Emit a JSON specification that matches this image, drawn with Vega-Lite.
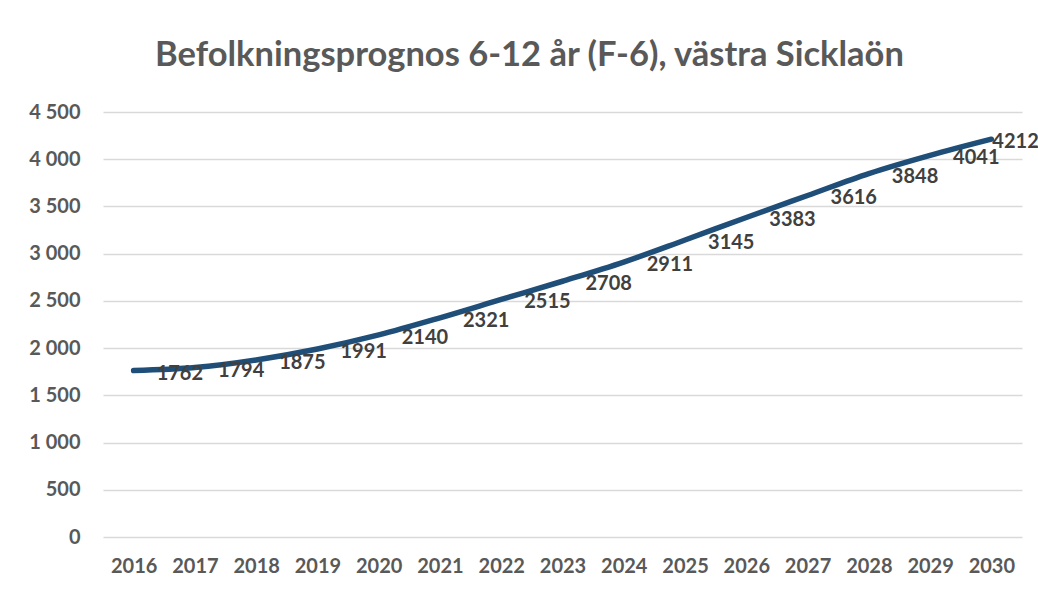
{
  "$schema": "https://vega.github.io/schema/vega-lite/v6.json",
  "autosize": "none",
  "width": 919,
  "height": 425,
  "padding": {"left": 103, "top": 112, "right": 16, "bottom": 53},
  "background": "white",
  "config": {
    "font": "Lato",
    "view": {"stroke": null},
    "axis": {"labelFont": "Lato", "labelFontWeight": "bold", "labelColor": "#595959", "labelFontSize": 20}
  },
  "title": {
    "text": "Befolkningsprognos 6-12 år (F-6), västra Sicklaön",
    "font": "Lato",
    "fontSize": 34.5,
    "fontWeight": "bold",
    "color": "#595959",
    "anchor": "middle",
    "dx": -33,
    "offset": 29
  },
  "data": {
    "values": [
      {"year": "2016", "value": 1762},
      {"year": "2017", "value": 1794},
      {"year": "2018", "value": 1875},
      {"year": "2019", "value": 1991},
      {"year": "2020", "value": 2140},
      {"year": "2021", "value": 2321},
      {"year": "2022", "value": 2515},
      {"year": "2023", "value": 2708},
      {"year": "2024", "value": 2911},
      {"year": "2025", "value": 3145},
      {"year": "2026", "value": 3383},
      {"year": "2027", "value": 3616},
      {"year": "2028", "value": 3848},
      {"year": "2029", "value": 4041},
      {"year": "2030", "value": 4212}
    ]
  },
  "encoding": {
    "x": {
      "field": "year",
      "type": "ordinal",
      "scale": {"type": "point", "padding": 0.5},
      "axis": {"title": null, "labelAngle": 0, "domain": false, "ticks": false, "labelPadding": 19, "grid": false}
    },
    "y": {
      "field": "value",
      "type": "quantitative",
      "scale": {"domain": [0, 4500], "nice": false},
      "axis": {
        "title": null,
        "values": [0, 500, 1000, 1500, 2000, 2500, 3000, 3500, 4000, 4500],
        "labelExpr": "replace(format(datum.value, ','), ',', ' ')",
        "domain": false,
        "ticks": false,
        "labelPadding": 23,
        "grid": true,
        "gridColor": "#D9D9D9",
        "gridWidth": 1.5
      }
    }
  },
  "layer": [
    {
      "mark": {"type": "line", "interpolate": "monotone", "color": "#1F4E79", "strokeWidth": 5.5, "strokeCap": "round"}
    },
    {
      "transform": [{"filter": "datum.year != '2030'"}],
      "mark": {"type": "text", "align": "left", "baseline": "middle", "dx": 23, "dy": 3, "font": "Lato", "fontSize": 20, "fontWeight": "bold", "color": "#404040"},
      "encoding": {"text": {"field": "value", "type": "quantitative", "format": "d"}}
    },
    {
      "transform": [{"filter": "datum.year == '2030'"}],
      "mark": {"type": "text", "align": "left", "baseline": "middle", "dx": 1, "dy": 3, "font": "Lato", "fontSize": 20, "fontWeight": "bold", "color": "#404040"},
      "encoding": {"text": {"field": "value", "type": "quantitative", "format": "d"}}
    }
  ]
}
